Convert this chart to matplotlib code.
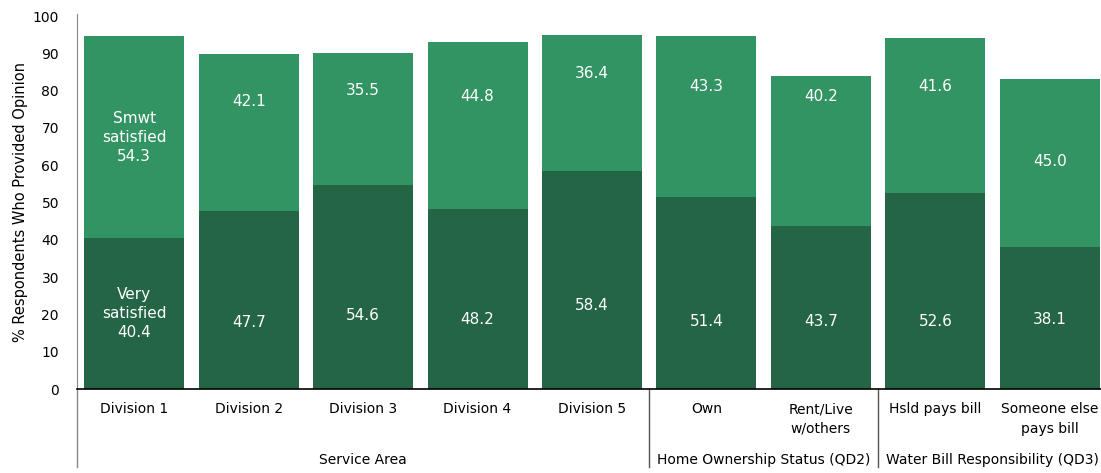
import numpy as np
import matplotlib.pyplot as plt
from matplotlib.transforms import blended_transform_factory

# Data
categories = ['Division 1', 'Division 2', 'Division 3', 'Division 4', 'Division 5',
              'Own', 'Rent/Live\nw/others', 'Hsld pays bill', 'Someone else\npays bill']
very_satisfied = [40.4, 47.7, 54.6, 48.2, 58.4, 51.4, 43.7, 52.6, 38.1]
smwt_satisfied = [54.3, 42.1, 35.5, 44.8, 36.4, 43.3, 40.2, 41.6, 45.0]
groups = ['Service Area', 'Home Ownership Status (QD2)', 'Water Bill Responsibility (QD3)']
group_sizes = [5, 2, 2]

# where the value labels sit inside the segments (as in the reference)
dark_label_y = [20.2, 17.7, 19.6, 18.5, 22.5, 18.0, 18.0, 18.0, 18.5]
light_label_y = [67.5, 77.2, 79.9, 78.3, 84.5, 81.0, 78.3, 81.0, 60.9]

dark = '#236544'
light = '#329462'

fig = plt.figure(figsize=(11.01, 4.73), dpi=100)
ax = fig.add_axes([77 / 1101, 84 / 473, 1030 / 1101, 373 / 473])

x = np.arange(len(categories))
w = 0.873
ax.bar(x, very_satisfied, width=w, color=dark, zorder=2)
ax.bar(x, smwt_satisfied, width=w, bottom=very_satisfied, color=light, zorder=2)

for i in range(len(categories)):
    if i == 0:
        t1 = 'Very\nsatisfied\n%.1f' % very_satisfied[i]
        t2 = 'Smwt\nsatisfied\n%.1f' % smwt_satisfied[i]
    else:
        t1 = '%.1f' % very_satisfied[i]
        t2 = '%.1f' % smwt_satisfied[i]
    ax.text(x[i], dark_label_y[i], t1, ha='center', va='center', color='white',
            fontsize=11, linespacing=1.35)
    ax.text(x[i], light_label_y[i], t2, ha='center', va='center', color='white',
            fontsize=11, linespacing=1.35)

ax.set_xlim(-0.5, len(categories) - 0.5)
ax.set_ylim(0, 100)
ax.set_yticks(range(0, 101, 10))
ax.tick_params(axis='y', length=0, pad=13, labelsize=10)
ax.set_xticks([])
ax.set_ylabel('% Respondents Who Provided Opinion', fontsize=10.5, labelpad=3)

for s in ['top', 'right']:
    ax.spines[s].set_visible(False)
ax.spines['left'].set_color('#888888')
ax.spines['left'].set_bounds(0, 100.5)
ax.spines['bottom'].set_color('black')
ax.spines['bottom'].set_linewidth(1.2)
ax.spines['bottom'].set_zorder(3)

trans = blended_transform_factory(ax.transData, ax.transAxes)
for i, c in enumerate(categories):
    ax.text(x[i], -0.035, c, transform=trans, ha='center', va='top',
            fontsize=10, linespacing=1.5)

# group labels and separators
start = 0
bottom_y = -0.21
ax.plot([-0.5, -0.5], [0, bottom_y], transform=trans, color='#888888',
        lw=1, clip_on=False)
for g, n in zip(groups, group_sizes):
    end = start + n
    ax.text((start + end - 1) / 2, -0.19, g, transform=trans, ha='center',
            va='center', fontsize=10)
    if end < len(categories):
        ax.plot([end - 0.5, end - 0.5], [0, bottom_y], transform=trans,
                color='#555555', lw=1, clip_on=False)
    start = end

fig.savefig('out.png', dpi=100)
